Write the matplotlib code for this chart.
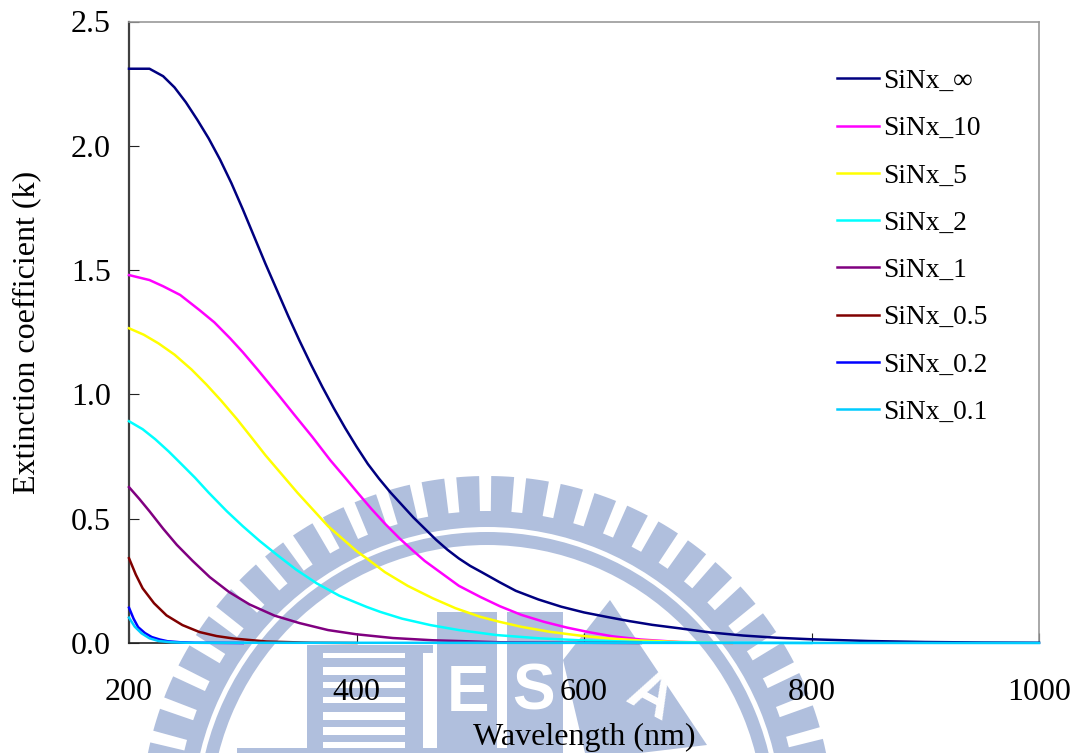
import matplotlib.pyplot as plt
from matplotlib.patches import Wedge, Rectangle, Polygon
import numpy as np

plt.rcParams['font.family'] = ['Liberation Serif', 'DejaVu Serif']

# values: wavelength (nm), extinction coefficient k
wl_inf = [200, 218, 230, 240, 250, 260, 270, 280, 290, 300, 310, 320, 330, 340, 350, 360, 370, 380, 390, 400,
          410, 420, 430, 440, 450, 460, 470, 480, 490, 500, 510, 526, 540, 560, 580, 600, 620, 640, 660, 684,
          710, 740, 770, 800, 850, 900, 950, 1000]
k_inf = [2.31, 2.31, 2.28, 2.235, 2.175, 2.105, 2.03, 1.945, 1.85, 1.745, 1.635, 1.525, 1.42, 1.315, 1.215, 1.12,
         1.03, 0.945, 0.865, 0.79, 0.72, 0.66, 0.605, 0.555, 0.505, 0.46, 0.415, 0.375, 0.34, 0.31, 0.285, 0.244,
         0.21, 0.175, 0.146, 0.123, 0.105, 0.088, 0.073, 0.059, 0.043, 0.03, 0.021, 0.015, 0.008, 0.004, 0.002, 0.001]

wl_10 = [200, 218, 230, 245, 262, 275, 289, 300, 313, 331, 345, 361, 377, 390, 400, 413, 425, 438, 450, 460, 475,
         490, 509, 526, 545, 565, 585, 605, 625, 650, 684, 730]
k_10 = [1.48, 1.46, 1.435, 1.40, 1.339, 1.29, 1.225, 1.17, 1.10, 1.00, 0.92, 0.83, 0.735, 0.665, 0.61, 0.54, 0.48,
        0.42, 0.37, 0.33, 0.28, 0.23, 0.185, 0.148, 0.113, 0.085, 0.062, 0.043, 0.027, 0.014, 0.004, 0.0]

wl_5 = [200, 213, 226, 240, 255, 268, 281, 295, 308, 320, 334, 348, 362, 375, 390, 400, 409, 425, 445, 467, 487,
        509, 526, 545, 570, 596, 620, 650, 684, 730]
k_5 = [1.266, 1.24, 1.205, 1.16, 1.10, 1.04, 0.975, 0.90, 0.825, 0.755, 0.68, 0.605, 0.535, 0.47, 0.41, 0.37, 0.34,
       0.285, 0.23, 0.18, 0.14, 0.105, 0.085, 0.065, 0.045, 0.03, 0.019, 0.01, 0.004, 0.0]

wl_2 = [200, 212, 223, 235, 246, 258, 270, 286, 300, 315, 330, 347, 365, 385, 409, 421, 440, 465, 490, 523, 560,
        596, 650, 720, 800]
k_2 = [0.892, 0.86, 0.82, 0.77, 0.72, 0.665, 0.605, 0.53, 0.47, 0.41, 0.355, 0.295, 0.24, 0.19, 0.145, 0.125, 0.098,
       0.072, 0.052, 0.032, 0.019, 0.011, 0.004, 0.001, 0.0]

wl_1 = [200, 209, 218, 230, 242, 256, 271, 288, 306, 328, 350, 375, 400, 432, 467, 526, 600, 650]
k_1 = [0.627, 0.58, 0.53, 0.46, 0.395, 0.33, 0.265, 0.205, 0.155, 0.11, 0.08, 0.052, 0.035, 0.02, 0.011, 0.003,
       0.001, 0.0]

wl_05 = [200, 206, 212, 222, 233, 247, 262, 277, 292, 321, 360, 400]
k_05 = [0.341, 0.275, 0.22, 0.16, 0.111, 0.072, 0.044, 0.028, 0.018, 0.006, 0.001, 0.0]

wl_02 = [200, 204, 208, 214, 220, 227, 234, 245, 258, 300]
k_02 = [0.142, 0.098, 0.064, 0.04, 0.024, 0.014, 0.007, 0.003, 0.001, 0.0]

wl_01 = [200, 205, 211, 218, 226, 237, 250, 1000]
k_01 = [0.102, 0.066, 0.039, 0.019, 0.008, 0.003, 0.001, 0.0]

labels = ['SiNx_∞', 'SiNx_10', 'SiNx_5', 'SiNx_2', 'SiNx_1', 'SiNx_0.5', 'SiNx_0.2', 'SiNx_0.1']
colors = ['#000080', '#ff00ff', '#ffff00', '#00ffff', '#800080', '#800000', '#0000ff', '#00ccff']
xs = [wl_inf, wl_10, wl_5, wl_2, wl_1, wl_05, wl_02, wl_01]
ys = [k_inf, k_10, k_5, k_2, k_1, k_05, k_02, k_01]

W, H = 1079, 753
BLUE = '#b0bfdd'

fig = plt.figure(figsize=(W / 100, H / 100), dpi=100)

# watermark behind the chart, in picture pixels
bg = fig.add_axes([0, 0, 1, 1], zorder=0)
bg.set_xlim(0, W)
bg.set_ylim(H, 0)
bg.axis('off')
cx, cy = 487, 822
for a in np.arange(0, 360, 5.8):
    bg.add_patch(Wedge((cx, cy), 346, a - 1.9, a + 1.9, width=40, color=BLUE, lw=0))
bg.add_patch(Wedge((cx, cy), 311, 0, 360, width=16, color=BLUE, lw=0))
bg.add_patch(Wedge((cx, cy), 290, 0, 360, width=13, color=BLUE, lw=0))

# T block with stripes
bg.add_patch(Rectangle((307, 645), 126, 8, color=BLUE, lw=0))
bg.add_patch(Rectangle((307, 645), 16, 108, color=BLUE, lw=0))
bg.add_patch(Rectangle((405, 645), 18, 108, color=BLUE, lw=0))
for y0, y1 in [(658, 667), (675, 682), (688, 697), (703, 712), (720, 727), (735, 742)]:
    bg.add_patch(Rectangle((323, y0), 82, y1 - y0, color=BLUE, lw=0))
bg.add_patch(Rectangle((237, 748), 270, 5, color=BLUE, lw=0))

# E, S, A blocks
bg.add_patch(Rectangle((437, 612), 60, 141, color=BLUE, lw=0))
bg.add_patch(Rectangle((507, 612), 56, 141, color=BLUE, lw=0))
bg.add_patch(Polygon([(610, 600), (707, 745), (640, 753), (585, 753), (563, 660)], color=BLUE, lw=0))
logo = ['Liberation Sans', 'DejaVu Sans']
bg.text(468, 694, 'E', color='white', fontsize=46, fontweight='bold', ha='center', va='center', family=logo)
bg.text(534, 692, 'S', color='white', fontsize=46, fontweight='bold', ha='center', va='center', family=logo)
bg.text(650, 698, 'A', color='white', fontsize=44, fontweight='bold', ha='center', va='center', rotation=-28,
        family=logo)

ax = fig.add_axes([129 / W, 1 - 643 / H, 910 / W, 621.5 / H], zorder=1)
ax.patch.set_alpha(0)

for x, y, lab, c in zip(xs, ys, labels, colors):
    ax.plot(x, y, color=c, lw=1.8, label=lab, clip_on=False, zorder=3)

ax.set_xlim(200, 1000)
ax.set_ylim(0, 2.5)
ax.set_xticks([200, 400, 600, 800, 1000])
ax.set_yticks([0, 0.5, 1.0, 1.5, 2.0, 2.5])
ax.set_yticklabels(['0.0', '0.5', '1.0', '1.5', '2.0', '2.5'])
ax.tick_params(direction='in', length=7, width=0.8, labelsize=23, color='#222222')
ax.tick_params(axis='x', pad=25.5)
ax.tick_params(axis='y', pad=13)
ax.set_xlabel('Wavelength (nm)', fontsize=23, labelpad=11.5)
ax.set_ylabel('Extinction coefficient (k)', fontsize=23, labelpad=21.5)

ax.spines['left'].set_color('#404040')
ax.spines['left'].set_linewidth(1.6)
ax.spines['bottom'].set_color('#222222')
ax.spines['bottom'].set_linewidth(1.2)
ax.spines['top'].set_color('#999999')
ax.spines['top'].set_linewidth(1.2)
ax.spines['right'].set_color('#999999')
ax.spines['right'].set_linewidth(1.2)

ax.legend(loc='upper left', bbox_to_anchor=(0.778, 0.924), frameon=False, fontsize=19.8,
          handlelength=1.52, handletextpad=0.15, labelspacing=0.8, borderpad=0, borderaxespad=0)

plt.savefig('out.png', dpi=100)
plt.close()
